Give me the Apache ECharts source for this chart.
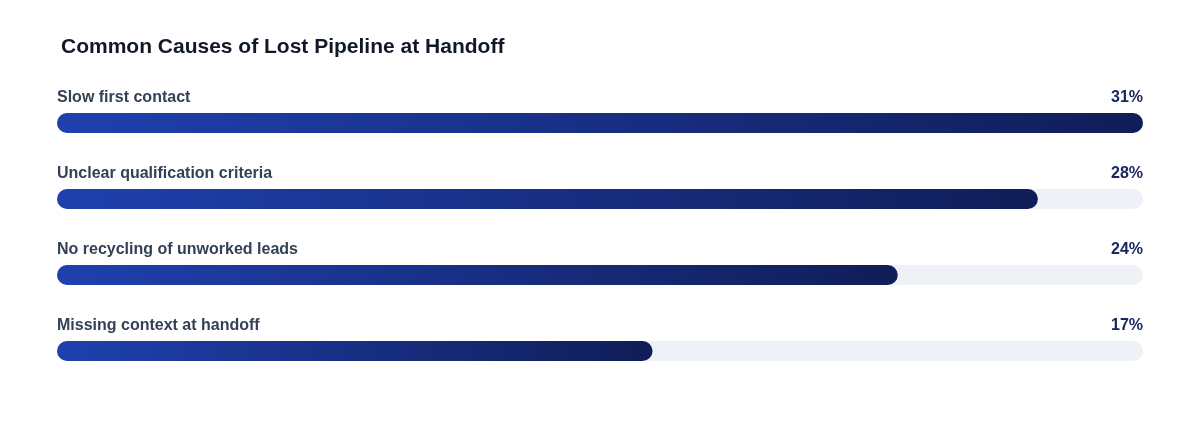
<!DOCTYPE html>
<html><head><meta charset="utf-8">
<script src="https://cdn.jsdelivr.net/npm/echarts@6/dist/echarts.min.js"></script>
<style>html,body{margin:0;padding:0;background:#fff}#c{width:1200px;height:432px}</style>
</head><body><div id="c"></div>
<script>
const categories = ["Slow first contact","Unclear qualification criteria","No recycling of unworked leads","Missing context at handoff"];
const values = [31,28,24,17];
const maxValue = 31;
const track = categories.map(()=>maxValue);
const font = "'Liberation Sans', Arial, Helvetica, sans-serif";
const chart = echarts.init(document.getElementById('c'));
chart.setOption({
  animation:false,
  title:{text:"Common Causes of Lost Pipeline at Handoff",left:56,top:32,textStyle:{fontFamily:font,fontSize:21,fontWeight:'bold',color:'#111827'}},
  grid:{left:57,right:57,top:85,height:304},
  xAxis:{type:'value',min:0,max:maxValue,show:false},
  yAxis:{type:'category',data:categories,inverse:true,show:false},
  series:[
    {type:'bar',data:track,barWidth:20,silent:true,z:1,
     itemStyle:{color:'#eef2f6',borderRadius:10},
     label:{show:true,position:[0,-23],verticalAlign:'top',align:'left',formatter:p=>p.name,
       fontFamily:font,fontSize:16,fontWeight:'bold',color:'#334155'}},
    {type:'bar',data:values,barWidth:20,barGap:'-100%',z:2,
     itemStyle:{borderRadius:10,color:new echarts.graphic.LinearGradient(0,0,1,0,[{offset:0,color:'#1f40ae'},{offset:1,color:'#101d58'}])},
     label:{show:false}},
    {type:'bar',data:track,barWidth:20,barGap:'-100%',z:3,silent:true,
     itemStyle:{color:'transparent'},
     label:{show:true,position:['100%',-23],verticalAlign:'top',align:'right',
       formatter:p=>values[p.dataIndex]+'%',fontFamily:font,fontSize:16,fontWeight:'bold',color:'#1a2563'}}
  ]
});
</script></body></html>
